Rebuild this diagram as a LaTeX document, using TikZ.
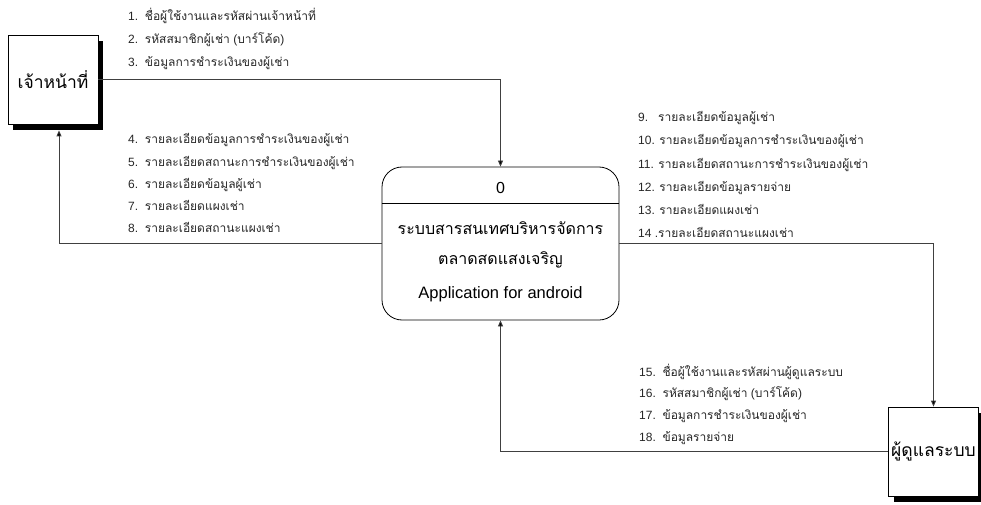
\documentclass[tikz,border=0pt]{standalone}
\usepackage{fontspec}
\setmainfont{Liberation Sans}
\newfontfamily\thaif[Script=Thai]{Loma}
\usetikzlibrary{arrows.meta,shadows}
\tikzset{
  ext/.style={draw=black, line width=0.8pt, fill=white, minimum width=90pt, minimum height=89pt, inner sep=0pt,
    font=\fontsize{17.5}{20}\selectfont\thaif,
    drop shadow={shadow xshift=5pt, shadow yshift=-6pt, fill=black, opacity=1}},
  proc/.style={draw=black, line width=0.8pt, rounded corners=20pt, minimum width=237pt, minimum height=153pt, inner sep=0pt},
  ptxt/.style={anchor=base, inner sep=0pt, font=\fontsize{16}{18}\selectfont},
  lbl/.style={anchor=base west, inner sep=0pt, font=\fontsize{12}{14}\selectfont, text=black!85},
  flow/.style={draw=black!75, line width=0.8pt, -{Triangle[length=6pt,width=5pt,fill=black]}}
}
\begin{document}
\begin{tikzpicture}[x=1pt,y=-1pt]
\useasboundingbox (0,0) rectangle (981,505);
% external entities
\node[ext] (e1) at (53,79.5) {เจ้าหน้าที่};
\node[ext] (e2) at (933.5,451.5) {ผู้ดูแลระบบ};
% process
\node[proc] (p) at (500.5,243.5) {};
\coordinate (dl) at ([yshift=-37pt]p.north west);
\coordinate (dr) at ([yshift=-37pt]p.north east);
\draw[line width=0.8pt] (dl) -- (dr);
\node[ptxt] (p0) at (500.5,193) {0};
\node[ptxt] (p1) at (500.5,234) {\thaif ระบบสารสนเทศบริหารจัดการ};
\node[ptxt] (p2) at (500.5,264) {\thaif ตลาดสดแสงเจริญ};
\node[ptxt, font=\fontsize{16.5}{18}\selectfont] (p3) at (500.5,298) {Application for android};
% connectors
\coordinate (e1in) at ([xshift=6pt,yshift=-6pt]e1.south);
\draw[flow] (e1.east) -| (p.north);
\draw[flow] (p.west) -| (e1in);
\draw[flow] (p.east) -| (e2.north);
\draw[flow] (e2.west) -| (p.south);
% labels
\node[lbl] (l1) at (128,21) {1.\ \ {\thaif ชื่อผู้ใช้งานและรหัสผ่านเจ้าหน้าที่}};
\node[lbl] (l2) at (128,44) {2.\ \ {\thaif รหัสสมาชิกผู้เช่า} ({\thaif บาร์โค้ด})};
\node[lbl] (l3) at (128,67) {3.\ \ {\thaif ข้อมูลการชำระเงินของผู้เช่า}};
\node[lbl] (l4) at (128,144) {4.\ \ {\thaif รายละเอียดข้อมูลการชำระเงินของผู้เช่า}};
\node[lbl] (l5) at (128,166) {5.\ \ {\thaif รายละเอียดสถานะการชำระเงินของผู้เช่า}};
\node[lbl] (l6) at (128,188) {6.\ \ {\thaif รายละเอียดข้อมูลผู้เช่า}};
\node[lbl] (l7) at (128,210) {7.\ \ {\thaif รายละเอียดแผงเช่า}};
\node[lbl] (l8) at (128,232) {8.\ \ {\thaif รายละเอียดสถานะแผงเช่า}};
\node[lbl] (l9) at (638,122) {9.\ \ \ {\thaif รายละเอียดข้อมูลผู้เช่า}};
\node[lbl] (l10) at (638,145) {10. {\thaif รายละเอียดข้อมูลการชำระเงินของผู้เช่า}};
\node[lbl] (l11) at (638,168) {11. {\thaif รายละเอียดสถานะการชำระเงินของผู้เช่า}};
\node[lbl] (l12) at (638,191) {12. {\thaif รายละเอียดข้อมูลรายจ่าย}};
\node[lbl] (l13) at (638,214) {13. {\thaif รายละเอียดแผงเช่า}};
\node[lbl] (l14) at (638,237) {14 .{\thaif รายละเอียดสถานะแผงเช่า}};
\node[lbl] (l15) at (639,376) {15.\ \ {\thaif ชื่อผู้ใช้งานและรหัสผ่านผู้ดูแลระบบ}};
\node[lbl] (l16) at (639,397.5) {16.\ \ {\thaif รหัสสมาชิกผู้เช่า} ({\thaif บาร์โค้ด})};
\node[lbl] (l17) at (639,419.5) {17.\ \ {\thaif ข้อมูลการชำระเงินของผู้เช่า}};
\node[lbl] (l18) at (639,441) {18.\ \ {\thaif ข้อมูลรายจ่าย}};
\end{tikzpicture}
\end{document}
